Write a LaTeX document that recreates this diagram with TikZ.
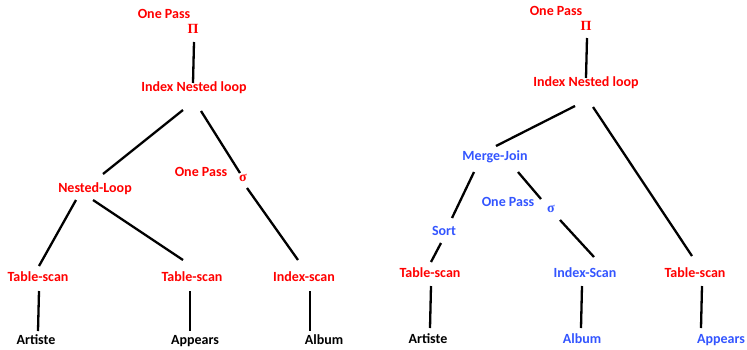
\documentclass[tikz,border=0pt]{standalone}
\usepackage{fontspec}
\setmainfont{Carlito}
\newfontfamily\symfont{Liberation Serif}
\definecolor{opred}{RGB}{255,0,0}
\definecolor{opblue}{RGB}{51,85,255}
\begin{document}
\begin{tikzpicture}[x=1pt,y=-1pt,
  lbl/.style={font=\bfseries\fontsize{14}{16}\selectfont, inner sep=0pt, text height=1.4ex, text depth=0.2ex},
  redlbl/.style={lbl, text=opred},
  bluelbl/.style={lbl, text=opblue},
  blacklbl/.style={lbl, text=black},
  sym/.style={font=\symfont\bfseries\fontsize{14}{16}\selectfont, inner sep=0pt},
  edge/.style={line width=2.3pt, black}]
\useasboundingbox (0,0) rectangle (747,349);

% ---------- left plan ----------
\node[redlbl] (Lpass) at (164,16) {One Pass};
\node[sym, text=opred] (Lpi) at (193,29) {Π};
\node[redlbl] (Linl) at (194,89) {Index Nested loop};
\node[redlbl] (Lnl) at (95,190) {Nested-Loop};
\node[redlbl] (Lselpass) at (201,174) {One Pass};
\node[sym, text=opred] (Lsig) at (243,178) {σ};
\node[redlbl] (Lts1) at (38,279) {Table-scan};
\node[redlbl] (Lts2) at (192,279) {Table-scan};
\node[redlbl] (Lis) at (304,279) {Index-scan};
\node[blacklbl] (Lart) at (36,342) {Artiste};
\node[blacklbl] (Lapp) at (195,342) {Appears};
\node[blacklbl] (Lalb) at (324,342) {Album};

\coordinate (Lpi-s) at (194,42);   \coordinate (Linl-n) at (193,83);
\coordinate (Linl-sw) at (183,110); \coordinate (Lnl-n) at (103,174);
\coordinate (Linl-se) at (201,111); \coordinate (Lsig-n) at (240,173);
\coordinate (Lsig-s) at (247,188);  \coordinate (Lis-n) at (298,260);
\coordinate (Lnl-sw) at (76,200);   \coordinate (Lts1-n) at (39,266);
\coordinate (Lnl-se) at (93,200);   \coordinate (Lts2-n) at (183,260);
\coordinate (Lts1-s) at (39,291);   \coordinate (Lart-n) at (38,331);
\coordinate (Lts2-s) at (190,291);  \coordinate (Lapp-n) at (190,331);
\coordinate (Lis-s) at (310,291);   \coordinate (Lalb-n) at (310,331);

\draw[edge] (Lpi-s) -- (Linl-n);
\draw[edge] (Linl-sw) -- (Lnl-n);
\draw[edge] (Linl-se) -- (Lsig-n);
\draw[edge] (Lsig-s) -- (Lis-n);
\draw[edge] (Lnl-sw) -- (Lts1-n);
\draw[edge] (Lnl-se) -- (Lts2-n);
\draw[edge] (Lts1-s) -- (Lart-n);
\draw[edge] (Lts2-s) -- (Lapp-n);
\draw[edge] (Lis-s) -- (Lalb-n);

% ---------- right plan ----------
\node[redlbl] (Rpass) at (556,13) {One Pass};
\node[sym, text=opred] (Rpi) at (586,26) {Π};
\node[redlbl] (Rinl) at (586,84) {Index Nested loop};
\node[bluelbl] (Rmj) at (495,158) {Merge-Join};
\node[bluelbl] (Rselpass) at (508,204) {One Pass};
\node[sym, text=opblue] (Rsig) at (551,209) {σ};
\node[bluelbl] (Rsort) at (444,233) {Sort};
\node[redlbl] (Rts1) at (430,275) {Table-scan};
\node[bluelbl] (Ris) at (585,275) {Index-Scan};
\node[redlbl] (Rts2) at (695,275) {Table-scan};
\node[blacklbl] (Rart) at (428,341) {Artiste};
\node[bluelbl] (Ralb) at (582,341) {Album};
\node[bluelbl] (Rapp) at (721,341) {Appears};

\coordinate (Rpi-s) at (587,38);    \coordinate (Rinl-n) at (586,78);
\coordinate (Rinl-sw) at (575,106); \coordinate (Rmj-n) at (496,146);
\coordinate (Rinl-se) at (593,107); \coordinate (Rts2-n) at (692,256);
\coordinate (Rmj-sw) at (474,172);  \coordinate (Rsort-n) at (452,218);
\coordinate (Rmj-se) at (518,172);  \coordinate (Rsig-n) at (541,199);
\coordinate (Rsig-s) at (560,220);  \coordinate (Ris-n) at (594,257);
\coordinate (Rsort-s) at (441,243); \coordinate (Rts1-n) at (431,262);
\coordinate (Rts1-s) at (431,286);  \coordinate (Rart-n) at (430,328);
\coordinate (Ris-s) at (582,286);   \coordinate (Ralb-n) at (581,328);
\coordinate (Rts2-s) at (702,286);  \coordinate (Rapp-n) at (701,328);

\draw[edge] (Rpi-s) -- (Rinl-n);
\draw[edge] (Rinl-sw) -- (Rmj-n);
\draw[edge] (Rinl-se) -- (Rts2-n);
\draw[edge] (Rmj-sw) -- (Rsort-n);
\draw[edge] (Rmj-se) -- (Rsig-n);
\draw[edge] (Rsig-s) -- (Ris-n);
\draw[edge] (Rsort-s) -- (Rts1-n);
\draw[edge] (Rts1-s) -- (Rart-n);
\draw[edge] (Ris-s) -- (Ralb-n);
\draw[edge] (Rts2-s) -- (Rapp-n);
\end{tikzpicture}
\end{document}
